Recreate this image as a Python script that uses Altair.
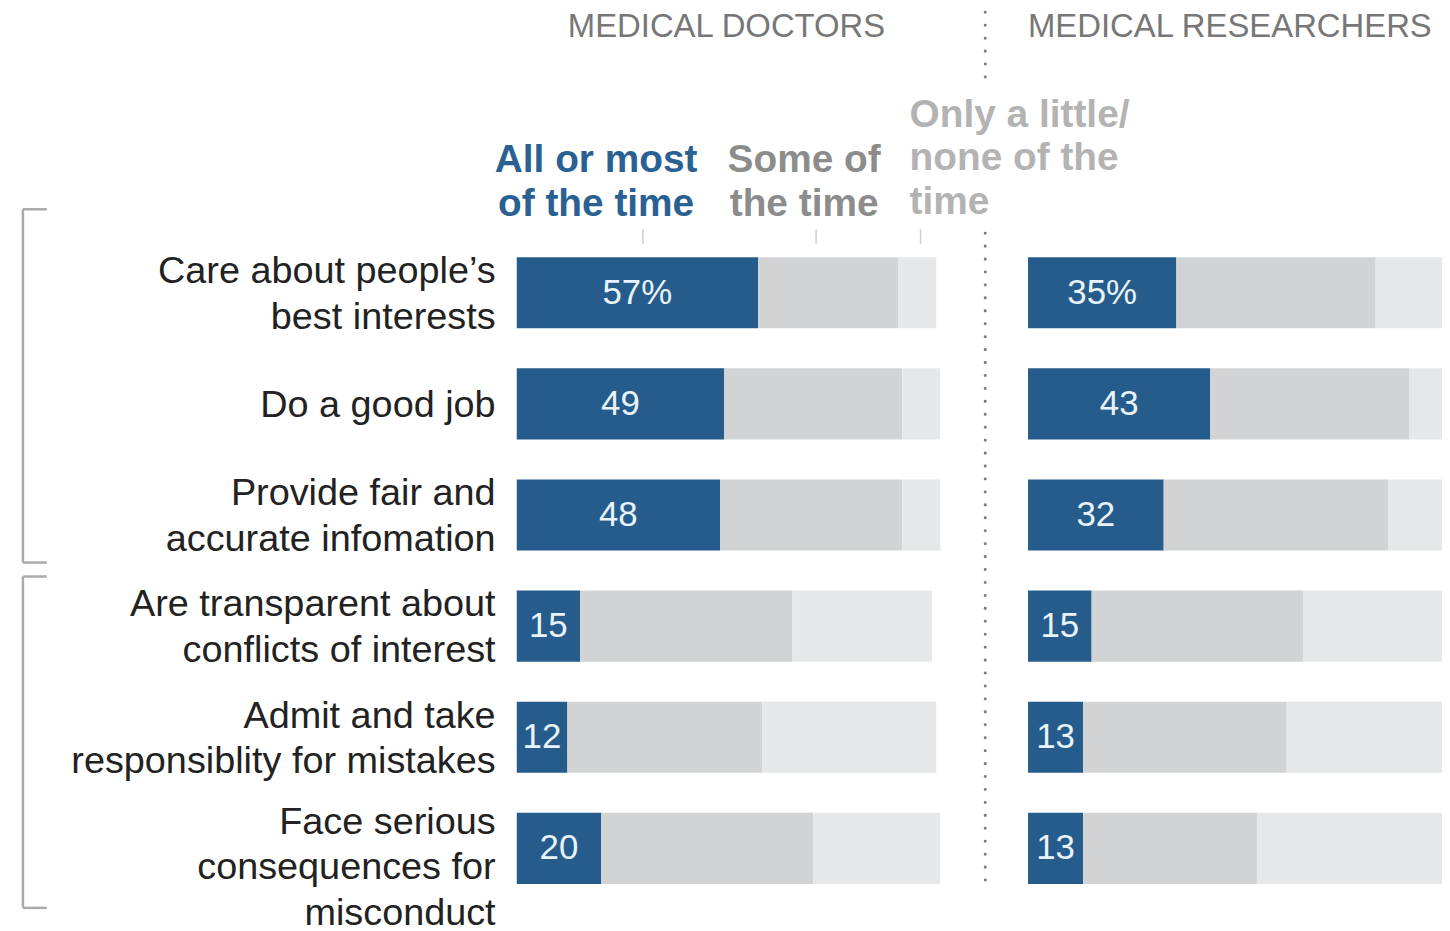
import altair as alt
import pandas as pd

# ---- data ----
items = [
    "Care about people\u2019s|best interests",
    "Do a good job",
    "Provide fair and|accurate infomation",
    "Are transparent about|conflicts of interest",
    "Admit and take|responsiblity for mistakes",
    "Face serious|consequences for|misconduct",
]
responses = ["All or most of the time", "Some of the time", "Only a little/none of the time"]

doctors_most = [57, 49, 48, 15, 12, 20]
doctors_some = [33, 42, 43, 50, 46, 50]
doctors_little = [9, 9, 9, 33, 41, 30]

researchers_most = [35, 43, 32, 15, 13, 13]
researchers_some = [47, 47, 53, 50, 48, 41]
researchers_little = [17, 9, 14, 34, 38, 45]

BLUE = "#255c8c"
SOME = "#d1d3d4"
LITTLE = "#e6e7e8"
FONT = "Liberation Sans"


def long_table(most, some, little):
    rows = []
    for i, item in enumerate(items):
        for k, (resp, vals) in enumerate(zip(responses, [most, some, little])):
            label = f"{vals[i]}%" if i == 0 else f"{vals[i]}"
            rows.append({"item": item, "response": resp, "ord": k, "value": vals[i], "label": label})
    return pd.DataFrame(rows)


df_doc = long_table(doctors_most, doctors_some, doctors_little)
df_res = long_table(researchers_most, researchers_some, researchers_little)
df_items = pd.DataFrame({"item": items})

one = pd.DataFrame({"k": [0]})

y_scale = alt.Scale(domain=items, paddingInner=0.36, paddingOuter=0.18)
color_scale = alt.Scale(domain=responses, range=[BLUE, SOME, LITTLE])


def rule(x1, x2, y1, y2, color="#aaaaaa", width=2.5, **kw):
    return alt.Chart(one).mark_rule(color=color, strokeWidth=width, **kw).encode(
        x=alt.value(x1), x2=alt.value(x2), y=alt.value(y1), y2=alt.value(y2)
    )


def text(x, y, txt, **kw):
    return alt.Chart(one).mark_text(text=txt, font=FONT, **kw).encode(
        x=alt.value(x), y=alt.value(y)
    )


def panel(df, xmax):
    base = alt.Chart(df)
    xscale = alt.Scale(domain=[0, xmax], nice=False)
    bars = base.mark_bar(clip=True).encode(
        x=alt.X("value:Q", stack="zero", scale=xscale, axis=None),
        y=alt.Y("item:N", sort=items, scale=y_scale, title=None, axis=None),
        color=alt.Color("response:N", scale=color_scale, legend=None),
        order=alt.Order("ord:Q"),
    )
    labels = base.transform_filter(
        alt.datum.ord == 0
    ).transform_calculate(
        mid="datum.value / 2"
    ).mark_text(font=FONT, fontSize=35, color="#e8f3fb", baseline="middle").encode(
        x=alt.X("mid:Q", scale=xscale),
        y=alt.Y("item:N", sort=items, scale=y_scale, title=None),
        text="label:N",
    )
    return bars, labels


doc_bars, doc_labels = panel(df_doc, 100)
res_bars, res_labels = panel(df_res, 416 / 4.26)

# category labels (multi-line), right-aligned left of the doctors bars
# (yOffset is measured from the band start; half a band is 36 px)
cat_labels = alt.Chart(df_items).transform_calculate(
    lines="split(datum.item, '|')",
    n="length(split(datum.item, '|'))",
).transform_calculate(
    off="(datum.n > 1 ? -23 : 0) + (datum.n > 2 ? -5 : 0) + 13 + 36"
).mark_text(
    font=FONT, fontSize=38, lineHeight=46, color="#222222", align="right", baseline="alphabetic"
).encode(
    x=alt.value(-21),
    y=alt.Y("item:N", sort=items, scale=y_scale, title=None),
    yOffset=alt.YOffset("off:Q", scale=None),
    text="lines:N",
)

# decorations for the doctors panel (coordinates relative to its plot area)
anchor = rule(-511, -511, -228, -228, color="#ffffff", width=0.5, opacity=0)
header_doc = text(211, -211, "MEDICAL DOCTORS", fontSize=33, color="#777777", align="center", baseline="middle")
h_most = text(80, -65, ["All or most", "of the time"], fontSize=39, fontWeight="bold", color="#2a6192",
              align="center", baseline="alphabetic", lineHeight=44)
h_some = text(289, -65, ["Some of", "the time"], fontSize=39, fontWeight="bold", color="#8c8c8c",
              align="center", baseline="alphabetic", lineHeight=44)
h_little = text(395, -111, ["Only a little/", "none of the", "time"], fontSize=39, fontWeight="bold",
                color="#b3b3b3", align="left", baseline="alphabetic", lineHeight=44)
ticks = [rule(x, x, -8, 7, color="#cfcfcf", width=1.5) for x in (127, 301, 406)]
dots1 = rule(471, 471, -226, -156, color="#7a7a7a", width=3, strokeDash=[0.1, 12.9], strokeCap="round")
dots2 = rule(471, 471, -4, 654, color="#7a7a7a", width=3, strokeDash=[0.1, 12.9], strokeCap="round")
br1 = [rule(-496, -496, -28, 327), rule(-496, -472, -28, -28), rule(-496, -472, 327, 327)]
br2 = [rule(-496, -496, 341, 674), rule(-496, -472, 341, 341), rule(-496, -472, 674, 674)]

left = alt.layer(
    doc_bars, doc_labels, cat_labels, anchor, header_doc, h_most, h_some, h_little,
    *ticks, dots1, dots2, *br1, *br2
).properties(width=426, height=670)

header_res = text(0, -211, "MEDICAL RESEARCHERS", fontSize=33, color="#777777", align="left", baseline="middle")
right = alt.layer(res_bars, res_labels, header_res).properties(width=416, height=670)

chart = alt.hconcat(left, right, spacing=88, bounds="flush").properties(
    padding={"left": 0, "top": 0, "right": 0, "bottom": 0}
).configure_view(strokeWidth=0)

chart.save("out.html", embed_options={"renderer": "svg", "actions": False})
